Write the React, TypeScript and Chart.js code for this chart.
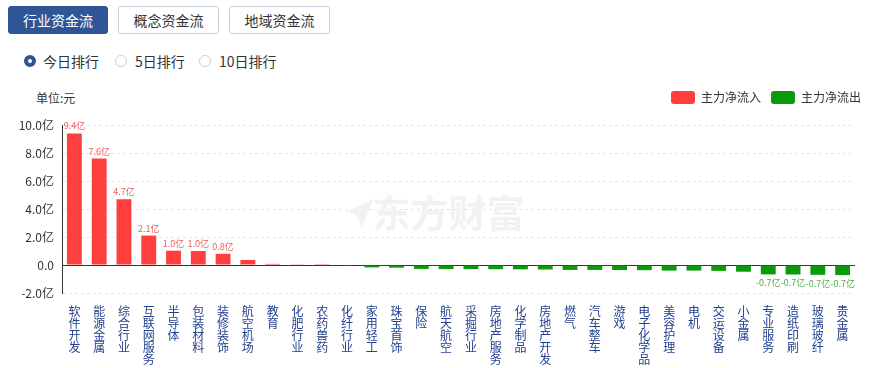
import React, { useEffect, useRef } from "react";
import { Chart, registerables } from "chart.js";

Chart.register(...registerables);

const categories = [
  "软件开发", "能源金属", "综合行业", "互联网服务", "半导体", "包装材料", "装修装饰", "航空机场",
  "教育", "化肥行业", "农药兽药", "化纤行业", "家用轻工", "珠宝首饰", "保险", "航天航空",
  "采掘行业", "房地产服务", "化学制品", "房地产开发", "燃气", "汽车整车", "游戏", "电子化学品",
  "美容护理", "电机", "交运设备", "小金属", "专业服务", "造纸印刷", "玻璃玻纤", "贵金属",
];

// 主力净流入/流出 (亿元)
const netFlow = [
  9.4, 7.6, 4.7, 2.1, 1.02, 1.0, 0.8, 0.36,
  0.08, 0.02, 0.01, -0.02, -0.17, -0.19, -0.28, -0.29,
  -0.29, -0.3, -0.31, -0.32, -0.35, -0.35, -0.36, -0.37,
  -0.4, -0.4, -0.42, -0.48, -0.67, -0.68, -0.7, -0.72,
];

const yTicks = [-2, 0, 2, 4, 6, 8, 10];
const seriesNames = ["主力净流入", "主力净流出"];
const tabs = ["行业资金流", "概念资金流", "地域资金流"];
const ranks = ["今日排行", "5日排行", "10日排行"];

const RED = "#ff3e3e";
const GREEN = "#0c990c";
const FONT = "'Microsoft YaHei', 'Noto Sans CJK SC', sans-serif";

const inflow = netFlow.map((v) => (v > 0 ? v : null));
const outflow = netFlow.map((v) => (v < 0 ? v : null));

const valueLabels = {
  id: "valueLabels",
  afterDatasetsDraw(chart: any) {
    const ctx = chart.ctx;
    ctx.save();
    ctx.font = `9px ${FONT}`;
    ctx.textAlign = "center";
    chart.data.datasets.forEach((ds: any, di: number) => {
      const meta = chart.getDatasetMeta(di);
      meta.data.forEach((bar: any, i: number) => {
        const v = ds.data[i];
        if (v == null || Math.abs(v) < 0.65) return;
        const txt = v.toFixed(1) + "亿";
        if (v > 0) {
          ctx.fillStyle = "#ec5b5b";
          ctx.textBaseline = "bottom";
          ctx.fillText(txt, bar.x, bar.y - 3);
        } else {
          ctx.fillStyle = "#4cae4c";
          ctx.textBaseline = "top";
          ctx.fillText(txt, bar.x, bar.y + 4);
        }
      });
    });
    ctx.restore();
  },
};

const watermark = {
  id: "watermark",
  beforeDatasetsDraw(chart: any) {
    const ctx = chart.ctx;
    const { left, right, top, bottom } = chart.chartArea;
    const cx = (left + right) / 2 - 10;
    const cy = (top + bottom) / 2 + 4;
    ctx.save();
    ctx.fillStyle = "#f2f2f2";
    ctx.font = `bold 38px ${FONT}`;
    ctx.textAlign = "center";
    ctx.textBaseline = "middle";
    ctx.fillText("东方财富", cx, cy);
    // logo strokes
    ctx.beginPath();
    const lx = cx - 93;
    ctx.moveTo(lx - 8, cy - 2);
    ctx.lineTo(lx + 18, cy - 14);
    ctx.lineTo(lx + 6, cy + 14);
    ctx.lineTo(lx + 2, cy + 4);
    ctx.closePath();
    ctx.fill();
    ctx.restore();
  },
};

function ChartView() {
  const ref = useRef<HTMLCanvasElement | null>(null);
  useEffect(() => {
    if (!ref.current) return;
    const chart = new Chart(ref.current, {
      type: "bar",
      data: {
        labels: categories.map((c) => c.split("")),
        datasets: [
          { label: seriesNames[0], data: inflow, backgroundColor: RED, categoryPercentage: 1, barPercentage: 0.6 },
          { label: seriesNames[1], data: outflow, backgroundColor: GREEN, categoryPercentage: 1, barPercentage: 0.6 },
        ],
      },
      options: {
        animation: false,
        responsive: false,
        maintainAspectRatio: false,
        layout: { padding: { top: 1, right: 10, left: 0, bottom: 0 } },
        plugins: {
          legend: {
            position: "top",
            align: "end",
            labels: {
              boxWidth: 24,
              boxHeight: 13,
              useBorderRadius: true,
              borderRadius: 3,
              padding: 10,
              color: "#333",
              font: { size: 12, family: FONT },
            },
          },
          tooltip: { enabled: false },
        },
        scales: {
          x: {
            stacked: true,
            grid: { display: false },
            border: { display: false },
            ticks: {
              autoSkip: false,
              maxRotation: 0,
              minRotation: 0,
              padding: 4,
              color: "#24418f",
              font: { size: 12, family: FONT, lineHeight: 1.0 },
            },
            afterFit: (s: any) => {
              s.height = 75;
            },
          },
          xTop: {
            type: "linear",
            axis: "x",
            position: "top",
            display: true,
            grid: { display: false },
            border: { display: false },
            ticks: { display: false },
            afterFit: (s: any) => {
              s.height = 11;
            },
          },
          y: {
            stacked: true,
            min: -2,
            max: 10,
            afterBuildTicks: (s: any) => {
              s.ticks = yTicks.map((v) => ({ value: v }));
            },
            grid: {
              drawTicks: false,
              color: (c: any) => (c.tick && c.tick.value === 0 ? "#333" : "#e4e4e4"),
            },
            border: {
              display: true,
              color: "#333",
              dash: (c: any) => (c.tick && c.tick.value === 0 ? [] : [3, 3]),
            },
            ticks: {
              padding: 8,
              color: "#333",
              font: { size: 12, family: FONT },
              callback: (v: any) => (Number(v) === 0 ? "0.0" : Number(v).toFixed(1) + "亿"),
            },
            afterFit: (s: any) => {
              s.width = 62;
            },
          },
          y1: {
            position: "right",
            display: true,
            grid: { display: false },
            border: { display: false },
            ticks: { display: false },
            afterFit: (s: any) => {
              s.width = 16;
            },
          },
        },
      },
      plugins: [valueLabels, watermark],
    } as any);
    return () => chart.destroy();
  }, []);
  return (
    <canvas
      ref={ref}
      width={881}
      height={288}
      style={{ position: "absolute", left: 0, top: 80, width: 881, height: 288 }}
    />
  );
}

export default function App() {
  const tabLeft = [8, 118, 229];
  const tabW = [100, 101, 101];
  const radioX = [30, 121, 205];
  const textX = [43, 135, 219];
  return (
    <div style={{ position: "absolute", left: 0, top: 0, width: 881, height: 368, background: "#fff", fontFamily: FONT, overflow: "hidden" }}>
      {tabs.map((t, i) => (
        <div
          key={t}
          style={{
            position: "absolute",
            left: tabLeft[i],
            top: 6,
            width: tabW[i],
            height: 28,
            boxSizing: "border-box",
            borderRadius: 3,
            border: i === 0 ? "1px solid #2f5597" : "1px solid #c7d0dd",
            background: i === 0 ? "#2f5597" : "#fff",
            color: i === 0 ? "#fff" : "#333",
            fontSize: 14,
            lineHeight: "26px",
            textAlign: "center",
          }}
        >
          {t}
        </div>
      ))}
      {ranks.map((r, i) => (
        <React.Fragment key={r}>
          <div
            style={{
              position: "absolute",
              left: radioX[i] - 6,
              top: 55,
              width: 12,
              height: 12,
              boxSizing: "border-box",
              borderRadius: "50%",
              border: i === 0 ? "4px solid #2f5597" : "1px solid #cfcfcf",
              background: "#fff",
            }}
          />
          <div style={{ position: "absolute", left: textX[i], top: 52, fontSize: 14, lineHeight: "18px", color: "#333" }}>{r}</div>
        </React.Fragment>
      ))}
      <div style={{ position: "absolute", left: 36, top: 90, fontSize: 12, lineHeight: "16px", color: "#333" }}>单位:元</div>
      <ChartView />
    </div>
  );
}
